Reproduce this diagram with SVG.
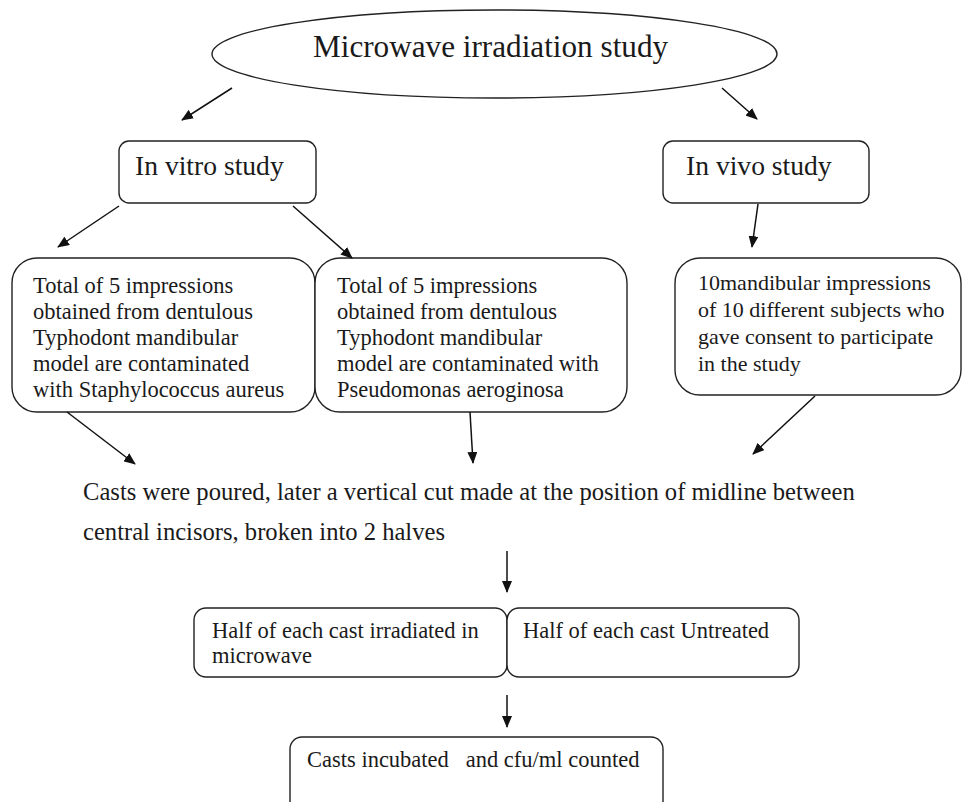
<svg xmlns="http://www.w3.org/2000/svg" width="964" height="802" viewBox="0 0 964 802">
<style>
.b{fill:#fff;stroke:#222;stroke-width:1.4}
.t{font-family:"Liberation Serif","Times New Roman",serif;font-size:22.5px;fill:#1a1a1a}
.c{stroke:#111;stroke-width:1.5;fill:none;marker-end:url(#ah)}
</style>
<defs>
<marker id="ah" markerWidth="12" markerHeight="10" refX="11" refY="5" orient="auto" markerUnits="userSpaceOnUse">
<path d="M0,0 L12,5 L0,10 Z" fill="#111"/>
</marker>
</defs>
<rect width="964" height="802" fill="#fff"/>
<g id="root">
<ellipse class="b" cx="494.5" cy="54" rx="282.5" ry="44"/>
<text class="t" x="313" y="57" style="font-size:31.2px">Microwave irradiation study</text>
</g>
<g id="invitro">
<rect class="b" x="119" y="141" width="197" height="62" rx="10"/>
<text class="t" x="135" y="175" style="font-size:27.6px">In vitro study</text>
</g>
<g id="invivo">
<rect class="b" x="663" y="141" width="206" height="62" rx="10"/>
<text class="t" x="686" y="175" style="font-size:27.6px">In vivo study</text>
</g>
<g id="staph">
<rect class="b" x="12" y="258" width="303" height="154" rx="25"/>
<text class="t" x="33" y="293">Total of 5 impressions</text>
<text class="t" x="33" y="319">obtained from dentulous</text>
<text class="t" x="33" y="345">Typhodont mandibular</text>
<text class="t" x="33" y="371">model are contaminated</text>
<text class="t" x="33" y="397">with Staphylococcus aureus</text>
</g>
<g id="pseudo">
<rect class="b" x="315" y="258" width="312" height="154" rx="25"/>
<text class="t" x="337" y="293">Total of 5 impressions</text>
<text class="t" x="337" y="319">obtained from dentulous</text>
<text class="t" x="337" y="345">Typhodont mandibular</text>
<text class="t" x="337" y="371">model are contaminated with</text>
<text class="t" x="337" y="397">Pseudomonas aeroginosa</text>
</g>
<g id="subjects">
<rect class="b" x="675" y="258" width="286" height="137" rx="25"/>
<text class="t" x="698" y="290" style="font-size:22px">10mandibular impressions</text>
<text class="t" x="698" y="317" style="font-size:22px">of 10 different subjects who</text>
<text class="t" x="698" y="344" style="font-size:22px">gave consent to participate</text>
<text class="t" x="698" y="371" style="font-size:22px">in the study</text>
</g>
<g id="casts">
<text class="t" x="83" y="500" style="font-size:24.6px">Casts were poured, later a vertical cut made at the position of midline between</text>
<text class="t" x="83" y="540" style="font-size:24.6px">central incisors, broken into 2 halves</text>
</g>
<g id="irradiated">
<rect class="b" x="194" y="608" width="313" height="69" rx="12"/>
<text class="t" x="212" y="638">Half of each cast irradiated in</text>
<text class="t" x="212" y="663">microwave</text>
</g>
<g id="untreated">
<rect class="b" x="507" y="608" width="292" height="69" rx="12"/>
<text class="t" x="523" y="638">Half of each cast Untreated</text>
</g>
<g id="incubated">
<rect class="b" x="290" y="737" width="373" height="80" rx="12"/>
<text class="t" x="307" y="767" xml:space="preserve">Casts incubated   and cfu/ml counted</text>
</g>
<g id="connectors">
<line class="c" x1="232" y1="88" x2="182" y2="120"/>
<line class="c" x1="722" y1="88" x2="757" y2="119"/>
<line class="c" x1="119" y1="206" x2="58" y2="247"/>
<line class="c" x1="293" y1="206" x2="352" y2="258"/>
<line class="c" x1="758" y1="204" x2="752" y2="247"/>
<line class="c" x1="67" y1="412" x2="135" y2="464"/>
<line class="c" x1="470" y1="412" x2="473" y2="463"/>
<line class="c" x1="815" y1="396" x2="753" y2="454"/>
<line class="c" x1="507" y1="551" x2="507" y2="592"/>
<line class="c" x1="507" y1="695" x2="507" y2="727"/>
</g>
</svg>
